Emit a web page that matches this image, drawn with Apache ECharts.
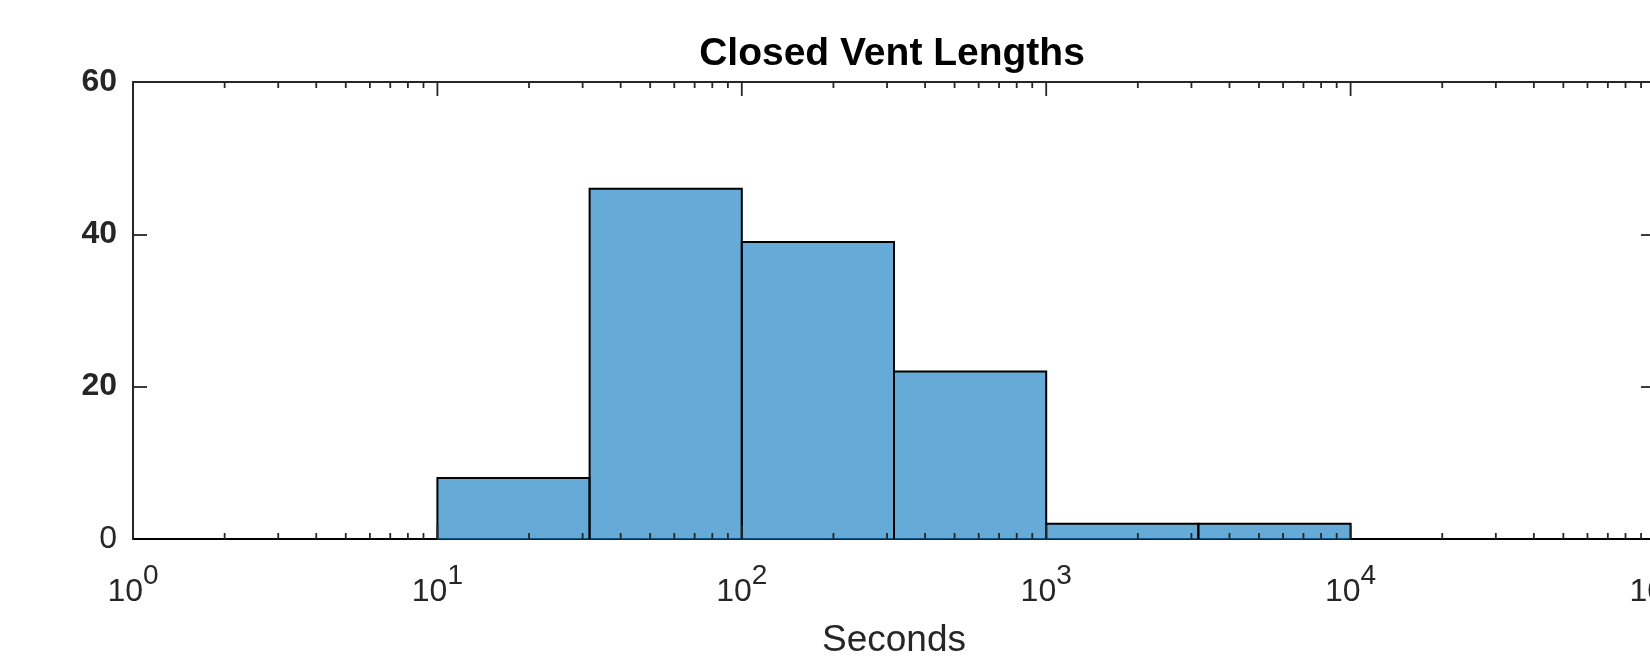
<!DOCTYPE html>
<html>
<head>
<meta charset="utf-8">
<script src="https://cdn.jsdelivr.net/npm/echarts@6/dist/echarts.min.js"></script>
<style>
html,body{margin:0;padding:0;background:#fff;}
#chart{width:1650px;height:658px;}
</style>
</head>
<body>
<div id="chart"></div>
<script>
// ---- data ----
const binEdges = [1, 3.1623, 10, 31.623, 100, 316.23, 1000, 3162.3, 10000, 31623, 100000];
const counts = [0, 0, 8, 46, 39, 22, 2, 2, 0, 0];
const yTicks = [0, 20, 40, 60];
const xTickExps = [0, 1, 2, 3, 4, 5];
const minorMultipliers = [2, 3, 4, 5, 6, 7, 8, 9];
const titleText = 'Closed Vent Lengths';
const xName = 'Seconds';

const barData = counts.map((c, i) => [binEdges[i], binEdges[i + 1], c]);

// tick marks (value, isMajor) for the log x axis, drawn on bottom and top edges
const tickData = [];
xTickExps.forEach((e, i) => {
  tickData.push([Math.pow(10, e), 1]);
  if (i < xTickExps.length - 1) {
    minorMultipliers.forEach(m => tickData.push([m * Math.pow(10, e), 0]));
  }
});

const FONT = '"Liberation Sans", Arial, Helvetica, sans-serif';
const TXT = '#262626';

const chart = echarts.init(document.getElementById('chart'), null, {renderer: 'canvas'});

const xCommon = {
  type: 'log',
  logBase: 10,
  min: Math.pow(10, xTickExps[0]),
  max: Math.pow(10, xTickExps[xTickExps.length - 1]),
  splitLine: {show: false},
  axisLine: {show: true, onZero: false, lineStyle: {color: TXT, width: 2}},
  axisTick: {show: false},
  minorTick: {show: false},
  minorSplitLine: {show: false}
};

const yCommon = {
  type: 'value',
  min: yTicks[0],
  max: yTicks[yTicks.length - 1],
  interval: yTicks[1] - yTicks[0],
  splitLine: {show: false},
  axisLine: {show: true, onZero: false, lineStyle: {color: TXT, width: 2}},
  axisTick: {show: true, inside: true, length: 14, lineStyle: {color: TXT, width: 1.8}}
};

chart.setOption({
  animation: false,
  backgroundColor: '#fff',
  title: {
    text: titleText,
    left: 887,
    textAlign: 'center',
    top: 30,
    textStyle: {fontFamily: FONT, fontSize: 39, fontWeight: 'bold', color: '#000'}
  },
  grid: {left: 133, top: 82, width: 1522, height: 457, containLabel: false, outerBoundsMode: 'none'},
  xAxis: [
    Object.assign({}, xCommon, {
      position: 'bottom',
      name: xName,
      nameLocation: 'middle',
      nameGap: 83,
      nameTextStyle: {fontFamily: FONT, fontSize: 37, color: TXT},
      axisLabel: {
        show: true,
        margin: 23,
        formatter: v => '{m|10}{s|' + Math.round(Math.log10(v)) + '}',
        rich: {
          m: {fontFamily: FONT, fontSize: 32, color: TXT, lineHeight: 46, verticalAlign: 'bottom'},
          s: {fontFamily: FONT, fontSize: 28, color: TXT, lineHeight: 28, verticalAlign: 'top'}
        }
      }
    }),
    Object.assign({}, xCommon, {
      position: 'top',
      axisLabel: {show: false}
    })
  ],
  yAxis: [
    Object.assign({}, yCommon, {
      position: 'left',
      axisLabel: {
        show: true,
        margin: 16,
        formatter: v => (v === 0 ? '{n|' + v + '}' : '{b|' + v + '}'),
        rich: {
          n: {fontFamily: FONT, fontSize: 32, color: TXT},
          b: {fontFamily: FONT, fontSize: 32, fontWeight: 'bold', color: TXT}
        }
      }
    }),
    Object.assign({}, yCommon, {
      position: 'right',
      axisLabel: {show: false}
    })
  ],
  series: [{
    type: 'custom',
    xAxisIndex: 0,
    yAxisIndex: 0,
    data: barData,
    encode: {x: [0, 1], y: 2},
    z: 3,
    renderItem: function (params, api) {
      const lo = api.value(0), hi = api.value(1), c = api.value(2);
      const p0 = api.coord([lo, 0]);
      const p1 = api.coord([hi, c]);
      return {
        type: 'group',
        children: [
          {
            type: 'rect',
            shape: {x: p0[0], y: p1[1], width: p1[0] - p0[0], height: p0[1] - p1[1]},
            style: {fill: 'rgba(0,114,189,0.6)'}
          },
          {
            type: 'polyline',
            shape: {points: [[p0[0], p0[1]], [p0[0], p1[1]], [p1[0], p1[1]], [p1[0], p0[1]]]},
            style: {stroke: '#000', lineWidth: 2, fill: null}
          }
        ]
      };
    }
  }, {
    type: 'custom',
    xAxisIndex: 1,
    yAxisIndex: 1,
    data: tickData,
    encode: {x: 0},
    z: 4,
    silent: true,
    renderItem: function (params, api) {
      const v = api.value(0), major = api.value(1) === 1;
      const len = major ? 14 : 6;
      const b = api.coord([v, yTicks[0]]);
      const t = api.coord([v, yTicks[yTicks.length - 1]]);
      const st = {stroke: TXT, lineWidth: 1.8};
      return {
        type: 'group',
        children: [
          {type: 'line', shape: {x1: b[0], y1: b[1], x2: b[0], y2: b[1] - len}, style: st},
          {type: 'line', shape: {x1: t[0], y1: t[1], x2: t[0], y2: t[1] + len}, style: st}
        ]
      };
    }
  }]
});
</script>
</body>
</html>
